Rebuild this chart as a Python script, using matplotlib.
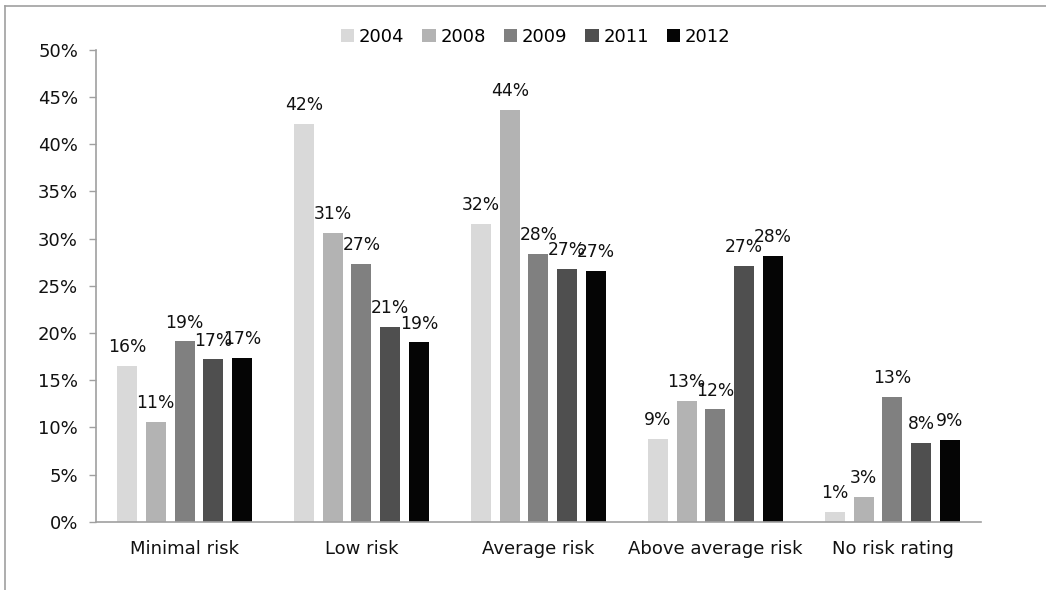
import matplotlib
matplotlib.use('Agg')
import matplotlib.pyplot as plt
import numpy as np
from matplotlib.lines import Line2D
from matplotlib.ticker import FuncFormatter

categories = ['Minimal risk', 'Low risk', 'Average risk', 'Above average risk', 'No risk rating']
years = ['2004', '2008', '2009', '2011', '2012']
v2004 = [16.5, 42.2, 31.6, 8.8, 1.0]
v2008 = [10.6, 30.6, 43.6, 12.8, 2.6]
v2009 = [19.1, 27.3, 28.4, 11.9, 13.2]
v2011 = [17.2, 20.6, 26.8, 27.1, 8.3]
v2012 = [17.4, 19.0, 26.6, 28.2, 8.7]
series = [v2004, v2008, v2009, v2011, v2012]
colors = ['#d9d9d9', '#b3b3b3', '#808080', '#4f4f4f', '#050505']

plt.rcParams['font.family'] = ['DejaVu Sans']
fs = 13
fig = plt.figure(figsize=(10.46, 5.9), dpi=100)
ax = fig.add_axes([0.0918, 0.1158, 0.846, 0.7995])

x = np.arange(len(categories))
slot = 0.1624
width = 0.113
for i, (vals, col, yr) in enumerate(zip(series, colors, years)):
    pos = x + (i - 2) * slot
    bars = ax.bar(pos, vals, width, color=col, label=yr, zorder=2)
    for b, v in zip(bars, vals):
        ax.annotate(f'{round(v):d}%', (b.get_x() + b.get_width() / 2, v),
                    xytext=(0, 10), textcoords='offset points',
                    ha='center', va='baseline', fontsize=12.3, color='#111111')

ax.set_xlim(-0.5, len(categories) - 0.5)
ax.set_ylim(0, 50)
ax.set_yticks(np.arange(0, 51, 5))
ax.yaxis.set_major_formatter(FuncFormatter(lambda v, p: f'{v:.0f}%'))
ax.set_xticks(x)
ax.set_xticklabels(categories)
ax.tick_params(axis='x', length=0, pad=13, labelsize=fs, labelcolor='#111111')
ax.tick_params(axis='y', length=5, width=1, color='#a0a0a0', pad=8,
               labelsize=fs, labelcolor='#111111')
for s in ['top', 'right']:
    ax.spines[s].set_visible(False)
for s in ['left', 'bottom']:
    ax.spines[s].set_color('#a0a0a0')
    ax.spines[s].set_linewidth(1.2)

leg = fig.legend(loc='center', bbox_to_anchor=(0.512, 0.937), ncol=5, frameon=False,
                 fontsize=fs, handlelength=0.75, handleheight=0.75,
                 handletextpad=0.25, columnspacing=1.0)

# outer chart border
fig.add_artist(Line2D([0.005, 0.005], [0, 0.99], transform=fig.transFigure,
                      color='#a0a0a0', lw=1.2))
fig.add_artist(Line2D([0.005, 1], [0.99, 0.99], transform=fig.transFigure,
                      color='#a0a0a0', lw=1.2))

fig.savefig('out.png', dpi=100)
